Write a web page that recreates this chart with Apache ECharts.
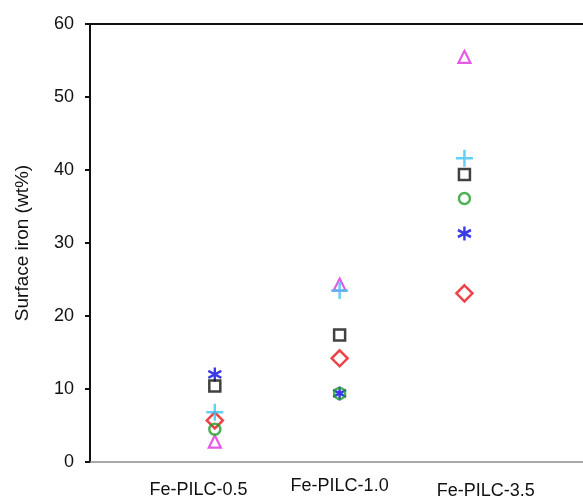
<!DOCTYPE html>
<html>
<head>
<meta charset="utf-8">
<script src="https://cdn.jsdelivr.net/npm/echarts@6/dist/echarts.min.js"></script>
<style>
  html, body { margin: 0; padding: 0; background: #fff; }
  #chart { width: 583px; height: 499px; }
</style>
</head>
<body>
<div id="chart"></div>
<script>
// samples on the x axis (positions 1, 2, 3)
var categories = ['Fe-PILC-0.5', 'Fe-PILC-1.0', 'Fe-PILC-3.5']
var yTicks = [0, 10, 20, 30, 40, 50, 60]

// surface iron (wt%) per marker type, one value per sample
var squareVals = [10.4, 17.4, 39.4]
var diamondVals = [5.7, 14.2, 23.1]
var triangleVals = [2.8, 24.3, 55.5]
var circleVals = [4.5, 9.4, 36.1]
var asteriskVals = [12.0, 9.4, 31.3]
var plusVals = [6.8, 23.5, 41.6]

function pts(vals) {
  return vals.map(function (v, i) { return [i + 1, v] })
}

var chart = echarts.init(document.getElementById('chart'))

function hollow(name, vals, symbol, size, color, bw) {
  return {
    name: name,
    type: 'scatter',
    symbol: symbol,
    symbolSize: size,
    data: pts(vals),
    itemStyle: { color: 'rgba(0,0,0,0)', borderColor: color, borderWidth: bw || 2 },
    emphasis: { disabled: true }
  }
}

var labelAt = [0.87, 2.0, 3.17] // label centres are a bit off the markers
var labelStyle = ['l0', 'l1', 'l2'] // each label sits at a slightly different height

chart.setOption({
  backgroundColor: '#fff',
  animation: false,
  grid: { left: 90, right: 0, top: 24, bottom: 37, outerBoundsMode: 'none' },
  xAxis: [{
    type: 'value',
    min: 0,
    max: 3.95,
    interval: 1,
    position: 'bottom',
    splitLine: { show: false },
    axisTick: { show: false },
    axisLine: { show: true, lineStyle: { color: '#8c8c8c', width: 1.5 } },
    axisLabel: {
      margin: 15,
      fontFamily: 'Liberation Sans, Arial, sans-serif',
      fontSize: 18,
      color: '#111',
      customValues: labelAt,
      formatter: function (v) {
        var idx = labelAt.indexOf(v)
        return idx >= 0 ? '{' + labelStyle[idx] + '|' + categories[idx] + '}' : ''
      },
      rich: {
        l0: { fontSize: 18, padding: [4, 0, 0, 0] },
        l1: { fontSize: 18, padding: [0, 0, 0, 0] },
        l2: { fontSize: 18, padding: [5, 0, 0, 0] }
      }
    }
  }, {
    type: 'value',
    min: 0,
    max: 3.95,
    position: 'top',
    splitLine: { show: false },
    axisTick: { show: false },
    axisLabel: { show: false },
    axisLine: { show: true, lineStyle: { color: '#111', width: 2 } }
  }],
  yAxis: {
    type: 'value',
    min: 0,
    max: 60,
    interval: 10,
    name: 'Surface iron (wt%)',
    nameLocation: 'middle',
    nameGap: 58,
    nameTextStyle: { fontFamily: 'Liberation Sans, Arial, sans-serif', fontSize: 19, color: '#111' },
    splitLine: { show: false },
    axisLine: { show: true, lineStyle: { color: '#111', width: 2 } },
    axisTick: { show: true, length: 5, lineStyle: { color: '#111', width: 2 } },
    axisLabel: {
      margin: 16,
      fontFamily: 'Liberation Sans, Arial, sans-serif',
      fontSize: 18,
      color: '#111',
      formatter: function (v) { return yTicks.indexOf(v) >= 0 ? String(v) : '' }
    }
  },
  series: [
    hollow('asterisk', asteriskVals, 'path://M5,0L5,10M0.7,2.5L9.3,7.5M0.7,7.5L9.3,2.5', [13, 14], '#0a0ae0', 2.5),
    hollow('square', squareVals, 'rect', 11, '#111', 2.5),
    hollow('diamond', diamondVals, 'diamond', 16, '#e8141a', 2.5),
    hollow('triangle', triangleVals, 'triangle', 12, '#e02ee0', 2.2),
    hollow('plus', plusVals, 'path://M0,5L10,5M5,0L5,10', [17, 17], '#3cc4f2', 2.5),
    hollow('circle', circleVals, 'circle', 11, '#1f9f28', 2.5)
  ]
})
</script>
</body>
</html>
